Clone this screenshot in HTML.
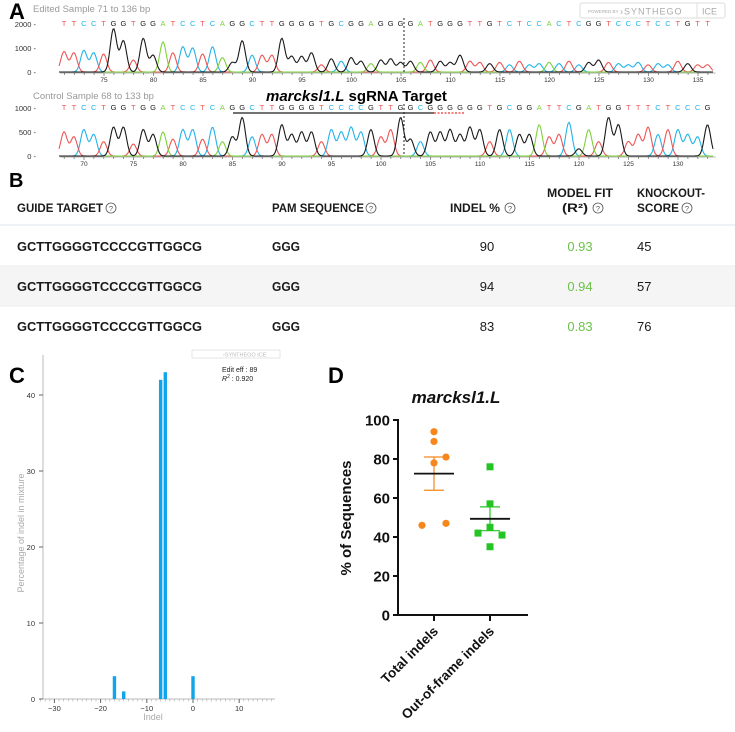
<!DOCTYPE html>
<html><head><meta charset="utf-8"><style>
html,body{margin:0;padding:0;background:#fff;}
svg{display:block;font-family:"Liberation Sans",sans-serif;}
</style></head><body>
<svg id="fig" width="735" height="732" viewBox="0 0 735 732" xmlns="http://www.w3.org/2000/svg">
<!-- Panel A -->
<text x="9" y="19" font-size="22" font-weight="bold">A</text>
<text x="33" y="12" font-size="9.5" fill="#999">Edited Sample 71 to 136 bp</text>
<g>
<rect x="580" y="3" width="145" height="15" fill="#fff" stroke="#ddd" rx="2"/>
<text x="588" y="13" font-size="4.5" fill="#aaa">POWERED BY</text>
<text x="620" y="14.5" font-size="9" fill="#aaa" letter-spacing="1">›SYNTHEGO</text>
<line x1="697" y1="3" x2="697" y2="18" stroke="#ddd"/>
<text x="702" y="14.5" font-size="9" fill="#aaa">ICE</text>
</g>
<g id="topChrom"></g>
<text x="33" y="99" font-size="9.5" fill="#999">Control Sample 68 to 133 bp</text>
<text x="266" y="101" font-size="15" font-weight="bold"><tspan font-style="italic">marcksl1.L</tspan> sgRNA Target</text>
<g id="botChrom"></g>
<line x1="233" y1="113" x2="434" y2="113" stroke="#444" stroke-width="1.5"/>
<line x1="434" y1="113" x2="465" y2="113" stroke="#e33" stroke-width="1.2" stroke-dasharray="2,1.5"/>
<line x1="404" y1="18" x2="404" y2="72" stroke="#222" stroke-dasharray="2,2"/>
<line x1="404" y1="104" x2="404" y2="156" stroke="#222" stroke-dasharray="2,2"/>

<!-- Panel B -->
<text x="9" y="187" font-size="20" font-weight="bold">B</text>
<g id="table"></g>

<!-- Panel C -->
<text x="9" y="383" font-size="22" font-weight="bold">C</text>
<g id="chartC"></g>

<!-- Panel D -->
<text x="328" y="383" font-size="22" font-weight="bold">D</text>
<g id="chartD"></g>
</svg>
<script>
var NS="http://www.w3.org/2000/svg";
// ---- data ----
var topSeq="TTCCTGGTGGATCCTCAGGCTTGGGGTGCGGAGGGGATGGGTTGTCTCCACTCGGTCCCTCCTGTT";
var topHeights=[850,800,900,800,750,1800,1300,500,1400,700,1250,800,1050,1000,750,1050,600,400,1300,700,700,700,1400,650,650,800,300,550,450,600,450,350,500,550,400,450,400,500,450,400,700,450,400,350,400,300,450,300,350,400,350,450,300,400,500,400,350,300,400,300,350,300,450,350,300,300];
var topTicks=[75,80,85,90,95,100,105,110,115,120,125,130,135];
var topYTicks=[0,1000,2000];
var botSeq="TTCCTGGTGGATCCTCAGGCTTGGGGTCCCCGTTGGCGGGGGGTGCGGATTCGATGGTTTCTCCCG";
var botHeights=[500,400,550,450,300,600,600,250,550,450,500,350,550,550,350,600,300,400,800,400,450,450,650,450,500,500,300,550,500,600,500,550,400,550,800,350,300,500,500,550,450,600,550,300,550,550,450,450,650,400,450,700,150,550,300,800,650,300,450,600,450,550,550,450,400,650];
var botTicks=[70,75,80,85,90,95,100,105,110,115,120,125,130];
var botYTicks=[0,500,1000];

var guides=["GCTTGGGGTCCCCGTTGGCG","GCTTGGGGTCCCCGTTGGCG","GCTTGGGGTCCCCGTTGGCG"];
var pams=["GGG","GGG","GGG"];
var indelPct=["90","94","83"];
var r2=["0.93","0.94","0.83"];
var koScore=["45","57","76"];

var indelSizes=[-17,-15,-7,-6,0];
var indelValues=[3,1,42,43,3];
var cXTicks=[-30,-20,-10,0,10];
var cYTicks=[0,10,20,30,40];

var totalIndels=[94,89,81,78,47,46];
var totalJitter=[0,0,1,0,1,-1];
var oofIndels=[76,57,45,42,41,35];
var oofJitter=[0,0,0,-1,1,0];
var dYTicks=[0,20,40,60,80,100];
var dCats=["Total indels","Out-of-frame indels"];

var colors={A:"#7ed23a",C:"#22b4ea",G:"#1a1a1a",T:"#ee5555"};

function mk(tag,attrs,parent){var e=document.createElementNS(NS,tag);for(var k in attrs)e.setAttribute(k,attrs[k]);if(parent)parent.appendChild(e);return e;}

// ---- chromatograms ----
function chrom(gid,seq,h,startBp,ticks,yt,baseY,pxPerUnit,seqY,firstTickBp,firstTickX){
  var g=document.getElementById(gid);
  var x0=64,dx=9.9;
  function bx(i){return x0+dx*i;}
  function bpx(bp){return firstTickX+(bp-firstTickBp)*dx;}
  function yv(v){return baseY-v*pxPerUnit;}
  yt.forEach(function(v){
    var t=mk("text",{x:36,y:yv(v)+3,"font-size":7.5,"text-anchor":"end",fill:"#333"},g);t.textContent=v+" -";
    
    
  });
  for(var i=0;i<seq.length;i++){
    var t=mk("text",{x:bx(i),y:seqY,"font-size":7.5,"text-anchor":"middle",fill:colors[seq[i]]},g);t.textContent=seq[i];
    
    
  }
  ["C","T","A","G"].forEach(function(c){
    var d="";
    for(var px=64-5;px<=bx(seq.length-1)+6;px+=1){
      var s=0;
      for(var i=0;i<seq.length;i++){ if(seq[i]!==c) continue; var u=(px-bx(i))/3.2; if(Math.abs(u)<5) s+=h[i]*Math.exp(-u*u/2);}
      d+=(d?"L":"M")+px+","+yv(s).toFixed(2);
    }
    var p=mk("path",{d:d,fill:"none",stroke:colors[c],"stroke-width":1.1},g);
    
    
  });
  mk("line",{x1:60,y1:baseY+1,x2:bx(seq.length-1)+8,y2:baseY+1,stroke:"#999","stroke-width":0.8},g);
  for(var b=startBp;b<startBp+seq.length;b++){
    var x=bpx(b);mk("line",{x1:x,y1:baseY+1,x2:x,y2:baseY+(b%5===0?4:3),stroke:"#666","stroke-width":0.7},g);
  }
  ticks.forEach(function(b){
    var t=mk("text",{x:bpx(b),y:baseY+10,"font-size":6.5,"text-anchor":"middle",fill:"#333"},g);t.textContent=b;
    
    
  });
}
chrom("topChrom",topSeq,topHeights,71,topTicks,topYTicks,72,0.024,26,75,104);
chrom("botChrom",botSeq,botHeights,68,botTicks,botYTicks,156,0.048,110,70,84);

// ---- table ----
(function(){
  var g=document.getElementById("table");
  mk("rect",{x:0,y:266,width:735,height:40,fill:"#f5f5f5"},g);
  mk("line",{x1:0,y1:225,x2:735,y2:225,stroke:"#dde4ec","stroke-width":1},g);
  mk("line",{x1:0,y1:266,x2:735,y2:266,stroke:"#eee"},g);
  mk("line",{x1:0,y1:306,x2:735,y2:306,stroke:"#eee"},g);
  function help(x,y){var c=mk("circle",{cx:x,cy:y,r:5,fill:"none",stroke:"#555","stroke-width":0.8},g);
    var t=mk("text",{x:x,y:y+3,"font-size":7.5,"text-anchor":"middle",fill:"#555"},g);t.textContent="?";
    }
  function txt(s,x,y,attrs,name,len){var a={x:x,y:y,"font-size":12,"font-weight":"bold",fill:"#1a1a1a"};for(var k in attrs)a[k]=attrs[k];
    if(len){a.textLength=len;a.lengthAdjust="spacingAndGlyphs";}
    var t=mk("text",a,g);t.textContent=s;
    return t;}
  txt("GUIDE TARGET",17,212,{},"header-guide-target",86);help(111,208);
  txt("PAM SEQUENCE",272,212,{},"header-pam",92);help(371,208);
  txt("INDEL %",450,212,{},"header-indel",50);help(510,208);
  txt("MODEL FIT",547,197,{},"header-model-fit",66);txt("(R²)",562,212,{},"header-r2",26);help(598,208);
  txt("KNOCKOUT-",637,197,{},"header-knockout",68);txt("SCORE",637,212,{},"header-score",42);help(687,208);
  var ys=[251,291,331];
  for(var i=0;i<3;i++){
    txt(guides[i],17,ys[i],{"font-size":12.5},"guide-sequence",185);
    txt(pams[i],272,ys[i],{"font-size":12.5},"pam-value",28);
    txt(indelPct[i],487,ys[i],{"font-weight":"normal","text-anchor":"middle","font-size":13},"indel-value");
    txt(r2[i],580,ys[i],{"font-weight":"normal","text-anchor":"middle","font-size":13,fill:"#6cc24a"},"r2-value");
    txt(koScore[i],637,ys[i],{"font-weight":"normal","font-size":13},"ko-score-value");
  }
})();

// ---- chart C ----
(function(){
  var g=document.getElementById("chartC");
  function xs(v){return 193+v*4.62;}
  function ys(v){return 699-v*7.6;}
  mk("line",{x1:43,y1:355,x2:43,y2:699,stroke:"#bbb","stroke-width":1},g);
  mk("line",{x1:43,y1:699,x2:275,y2:699,stroke:"#bbb","stroke-width":1},g);
  for(var v=-33;v<=17;v++){mk("line",{x1:xs(v),y1:699,x2:xs(v),y2:701.5,stroke:"#aaa","stroke-width":0.6},g);}
  cXTicks.forEach(function(v){var t=mk("text",{x:xs(v),y:711,"font-size":7.5,"text-anchor":"middle",fill:"#333"},g);t.textContent=(v<0?"\u2212"+(-v):v);
    
    mk("line",{x1:xs(v),y1:699,x2:xs(v),y2:703,stroke:"#666"},g);});
  cYTicks.forEach(function(v){var t=mk("text",{x:35,y:ys(v)+3,"font-size":7.5,"text-anchor":"end",fill:"#333"},g);t.textContent=v;
    
    mk("line",{x1:39,y1:ys(v),x2:43,y2:ys(v),stroke:"#666"},g);});
  for(var i=0;i<indelSizes.length;i++){
    var r=mk("rect",{x:xs(indelSizes[i])-1.7,y:ys(indelValues[i]),width:3.4,height:699-ys(indelValues[i]),fill:"#0ea5ec"},g);
    
    
  }
  var t=mk("text",{x:153,y:720,"font-size":9,"text-anchor":"middle",fill:"#aaa"},g);t.textContent="Indel";
  
  t=mk("text",{x:0,y:0,"font-size":9,"text-anchor":"middle",fill:"#aaa",transform:"translate(24,533) rotate(-90)"},g);t.textContent="Percentage of indel in mixture";
  
  t=mk("text",{x:222,y:372,"font-size":7,fill:"#222"},g);t.textContent="Edit eff : 89";
  
  t=mk("text",{x:222,y:381,"font-size":7,fill:"#222"},g);t.innerHTML='<tspan font-style="italic">R</tspan><tspan font-size="5" dy="-3">2</tspan><tspan dy="3"> : 0.920</tspan>';
  
  var lg=mk("g",{},g);
  mk("rect",{x:192,y:350,width:88,height:8,fill:"#fff",stroke:"#e4e4e4"},lg);
  t=mk("text",{x:223,y:356.5,"font-size":5.5,fill:"#bbb"},lg);t.textContent="›SYNTHEGO  ICE";
})();

// ---- chart D ----
(function(){
  var g=document.getElementById("chartD");
  function ys(v){return 615-v*1.95;}
  var cx=[434,490];
  mk("line",{x1:398,y1:419,x2:398,y2:616,stroke:"#111","stroke-width":2},g);
  mk("line",{x1:397,y1:615,x2:528,y2:615,stroke:"#111","stroke-width":2},g);
  dYTicks.forEach(function(v){mk("line",{x1:393,y1:ys(v),x2:398,y2:ys(v),stroke:"#111","stroke-width":2},g);
    var t=mk("text",{x:390,y:ys(v)+5.5,"font-size":15,"font-weight":"bold","text-anchor":"end",fill:"#111"},g);t.textContent=v;
    });
  cx.forEach(function(x,i){mk("line",{x1:x,y1:615,x2:x,y2:621,stroke:"#111","stroke-width":2},g);
    var t=mk("text",{x:0,y:0,"font-size":13.5,"font-weight":"bold","text-anchor":"end",fill:"#111",transform:"translate("+(x+5)+",632) rotate(-45)"},g);t.textContent=dCats[i];
    });
  var t=mk("text",{x:456,y:403,"font-size":17,"font-weight":"bold","font-style":"italic","text-anchor":"middle",fill:"#111"},g);t.textContent="marcksl1.L";
  
  t=mk("text",{x:0,y:0,"font-size":15,"font-weight":"bold","text-anchor":"middle",fill:"#111",transform:"translate(351,518) rotate(-90)"},g);t.textContent="% of Sequences";
  
  function stats(a){var m=a.reduce(function(s,v){return s+v;},0)/a.length;var sd=Math.sqrt(a.reduce(function(s,v){return s+(v-m)*(v-m);},0)/(a.length-1));return [m,sd/Math.sqrt(a.length)];}
  function group(vals,jit,x,color,shape,name){
    var st=stats(vals);
    mk("line",{x1:x,y1:ys(st[0]-st[1]),x2:x,y2:ys(st[0]+st[1]),stroke:color,"stroke-width":1.2},g);
    mk("line",{x1:x-10,y1:ys(st[0]+st[1]),x2:x+10,y2:ys(st[0]+st[1]),stroke:color,"stroke-width":1.2},g);
    mk("line",{x1:x-10,y1:ys(st[0]-st[1]),x2:x+10,y2:ys(st[0]-st[1]),stroke:color,"stroke-width":1.2},g);
    for(var i=0;i<vals.length;i++){
      var px=x+jit[i]*12,py=ys(vals[i]),m;
      if(shape==="c") m=mk("circle",{cx:px,cy:py,r:3.6,fill:color},g);
      else m=mk("rect",{x:px-3.5,y:py-3.5,width:7,height:7,fill:color},g);
      
      
    }
    var ml=mk("line",{x1:x-20,y1:ys(st[0]),x2:x+20,y2:ys(st[0]),stroke:"#111","stroke-width":1.8},g);
    
    
  }
  group(totalIndels,totalJitter,cx[0],"#f7861c","c","total-indels-point");
  group(oofIndels,oofJitter,cx[1],"#25c425","s","out-of-frame-point");
})();
</script>
</body></html>
